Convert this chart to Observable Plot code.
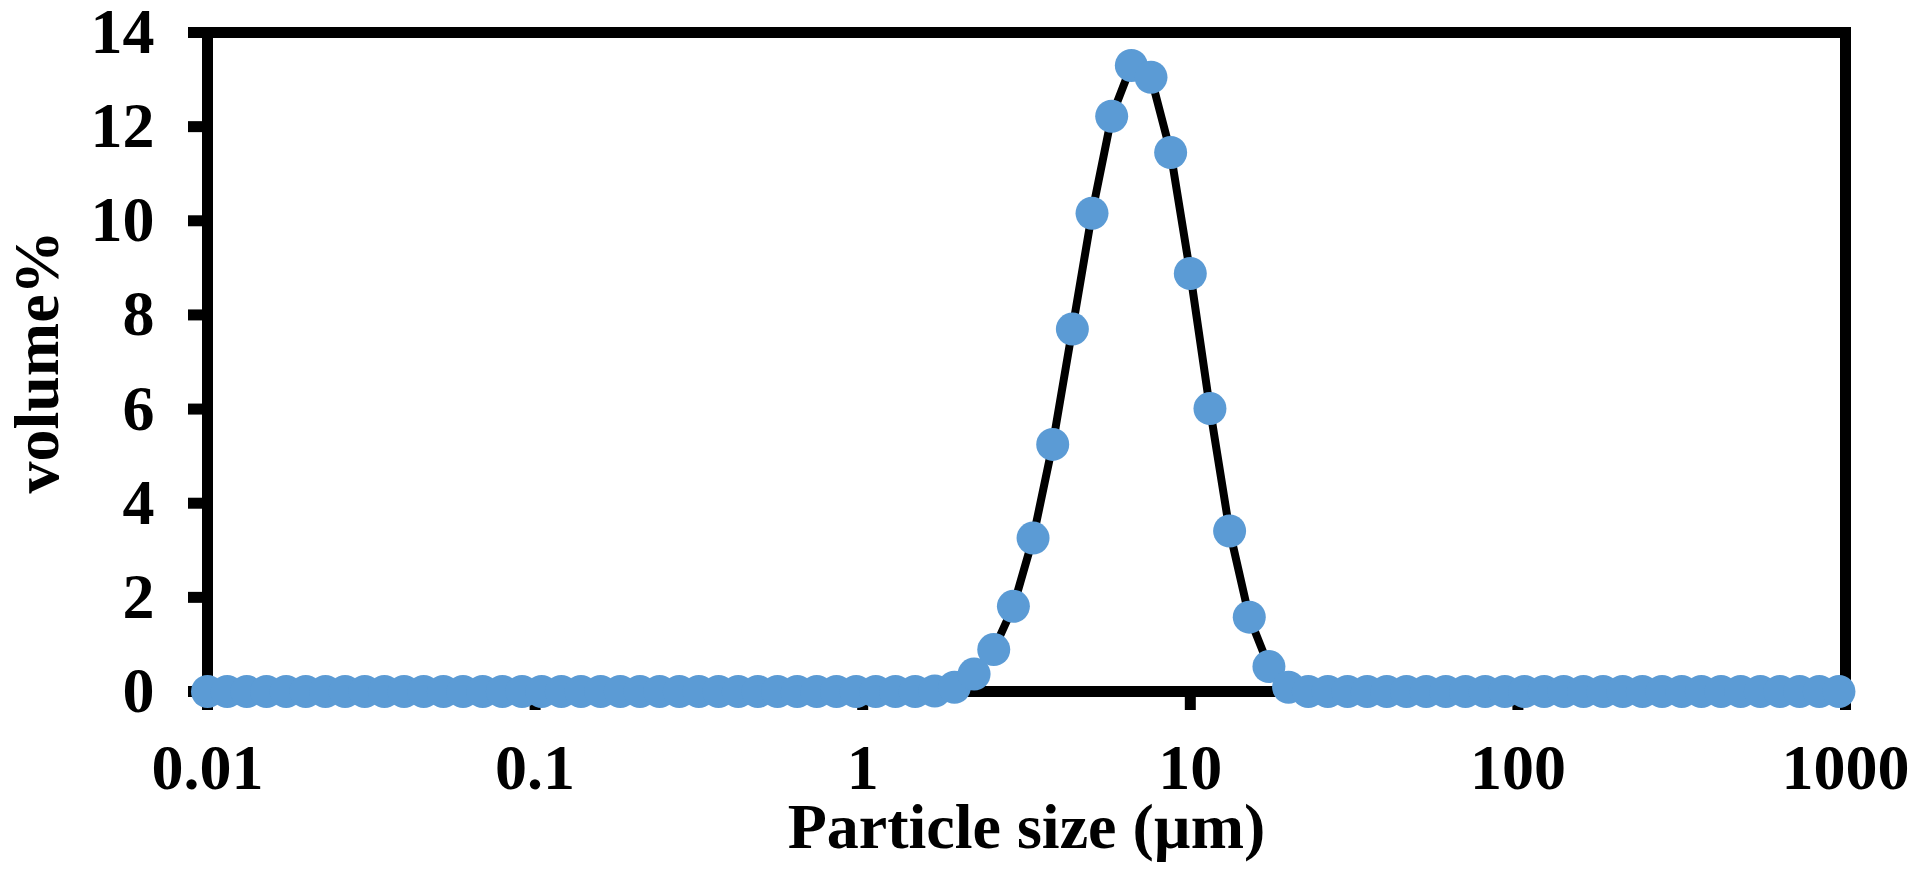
<!DOCTYPE html>
<html>
<head>
<meta charset="utf-8">
<script src="https://cdn.jsdelivr.net/npm/d3@7"></script>
<script src="https://cdn.jsdelivr.net/npm/@observablehq/plot@0.6"></script>
<style>
  html, body { margin: 0; padding: 0; background: #fff; }
  #chart { width: 1913px; height: 875px; overflow: hidden; }
</style>
</head>
<body>
<div id="chart"></div>
<script>
// Particle size classes (µm)
const sizes = [
  0.01, 0.011482, 0.013183, 0.015136, 0.017378, 0.019953, 0.022909, 0.026303, 0.030200, 0.034674,
  0.039811, 0.045709, 0.052481, 0.060256, 0.069183, 0.079433, 0.091201, 0.104713, 0.120226, 0.138038,
  0.158489, 0.181970, 0.208930, 0.239883, 0.275423, 0.316228, 0.363078, 0.416869, 0.478630, 0.549541,
  0.630957, 0.724436, 0.831764, 0.954993, 1.096478, 1.258925, 1.445440, 1.659587, 1.905461, 2.187762,
  2.511886, 2.884032, 3.311311, 3.801894, 4.365158, 5.011872, 5.754399, 6.606934, 7.585776, 8.709636,
  10.0, 11.481536, 13.182567, 15.135612, 17.378008, 19.952623, 22.908677, 26.302680, 30.199517, 34.673685,
  39.810717, 45.708819, 52.480746, 60.255959, 69.183097, 79.432823, 91.201084, 104.712855, 120.226443, 138.038426,
  158.489319, 181.970086, 208.929613, 239.883292, 275.422870, 316.227766, 363.078055, 416.869383, 478.630092, 549.540874,
  630.957344, 724.435960, 831.763771, 954.992586
];
// Volume % per class
const volume = [
  0, 0, 0, 0, 0, 0, 0, 0, 0, 0,
  0, 0, 0, 0, 0, 0, 0, 0, 0, 0,
  0, 0, 0, 0, 0, 0, 0, 0, 0, 0,
  0, 0, 0, 0, 0, 0, 0, 0.01, 0.09, 0.37,
  0.89, 1.81, 3.26, 5.25, 7.70, 10.16, 12.22, 13.30, 13.05, 11.45,
  8.88, 6.01, 3.41, 1.58, 0.53, 0.09, 0, 0, 0, 0,
  0, 0, 0, 0, 0, 0, 0, 0, 0, 0,
  0, 0, 0, 0, 0, 0, 0, 0, 0, 0,
  0, 0, 0, 0
];
const xTicks = [0.01, 0.1, 1, 10, 100, 1000];
const xTickLabels = ["0.01", "0.1", "1", "10", "100", "1000"];
const yTicks = [0, 2, 4, 6, 8, 10, 12, 14];
const xTitle = "Particle size (µm)";
const yTitle = "volume%";

const data = sizes.map((s, i) => ({size: s, vol: volume[i]}));

const chart = Plot.plot({
  width: 1913,
  height: 875,
  marginLeft: 207,
  marginRight: 68,
  marginTop: 32,
  marginBottom: 184,
  style: {
    fontFamily: "'Liberation Serif', 'Times New Roman', serif",
    fontSize: "64px",
    fontWeight: "bold",
    color: "black",
    background: "white"
  },
  x: {type: "log", domain: [0.01, 1000]},
  y: {domain: [0, 14]},
  marks: [
    Plot.frame({stroke: "black", strokeWidth: 11}),
    Plot.axisY({
      ticks: yTicks,
      tickSize: 19,
      tickPadding: 34,
      strokeWidth: 11,
      label: null,
      tickFormat: d => String(d)
    }),
    Plot.axisX({
      ticks: xTicks,
      tickSize: 19,
      tickPadding: 33,
      strokeWidth: 11,
      label: null,
      tickFormat: d => xTickLabels[xTicks.indexOf(d)] ?? String(d)
    }),
    Plot.line(data, {x: "size", y: "vol", stroke: "black", strokeWidth: 8, curve: "linear"}),
    Plot.dot(data, {x: "size", y: "vol", r: 16.5, fill: "#5B9BD5", stroke: "none"}),
    Plot.text([xTitle], {
      frameAnchor: "bottom",
      textAnchor: "middle",
      lineAnchor: "top",
      dy: 111,
      text: d => d,
      fontSize: 64,
      fontWeight: "bold",
      fill: "black"
    }),
    Plot.text([yTitle], {
      frameAnchor: "left",
      textAnchor: "middle",
      lineAnchor: "middle",
      rotate: -90,
      dx: -170,
      text: d => d,
      fontSize: 64,
      fontWeight: "bold",
      fill: "black"
    })
  ]
});
document.getElementById("chart").appendChild(chart);
</script>
</body>
</html>
